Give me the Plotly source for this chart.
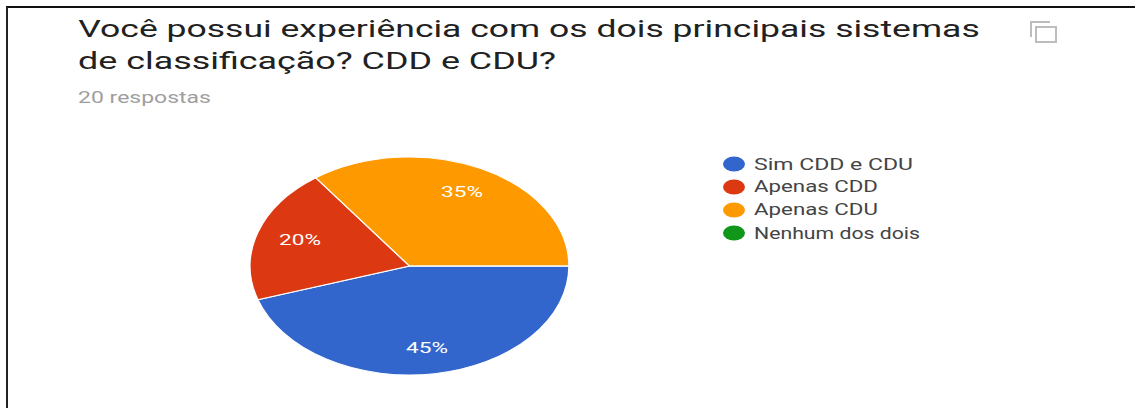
import math
import plotly.graph_objects as go

# data
categories = ["Sim CDD e CDU", "Apenas CDD", "Apenas CDU", "Nenhum dos dois"]
values = [45, 20, 35, 0]
colors = ["#3366CC", "#DC3912", "#FF9900", "#109618"]
title_lines = ["Você possui experiência com os dois principais sistemas",
               "de classificação? CDD e CDU?"]
subtitle = "20 respostas"

W, H = 1135, 408
FONT = "Roboto"


def px(x):
    return x / W


def py(y):
    return 1 - y / H


# the reference is a stretched screenshot, so each text gets a target width in px
# and is widened to it in post_script
target_widths = []


def text(x, y, s, size, color, width):
    target_widths.append(width)
    return dict(x=px(x), y=py(y), xref="paper", yref="paper", text=s, showarrow=False,
                xanchor="left", yanchor="middle", xshift=-2,
                font=dict(family=FONT, size=size, color=color))


# pie is a circle 319 wide, squeezed to 218 high after drawing (see post_script)
PIE_D = 319
PIE_H = 218
PIE_CX, PIE_CY = 409.5, 266
fig = go.Figure(go.Pie(labels=categories,
                       values=values,
                       sort=False,
                       direction="clockwise",
                       rotation=90,
                       marker=dict(colors=colors, line=dict(color="white", width=1.5)),
                       textinfo="none",
                       domain=dict(x=[px(PIE_CX - PIE_D / 2), px(PIE_CX + PIE_D / 2)],
                                   y=[py(PIE_D), 1]),
                       hoverinfo="label+percent"))

annotations = [text(78, 29, title_lines[0], 24, "#212121", 902),
               text(78, 61, title_lines[1], 24, "#212121", 478),
               text(78, 97, subtitle, 16, "#9e9e9e", 133)]
shapes = [
    dict(type="line", xref="paper", yref="paper", x0=px(6), x1=1, y0=py(7), y1=py(7),
         line=dict(color="#111111", width=2)),
    dict(type="line", xref="paper", yref="paper", x0=px(7), x1=px(7), y0=py(7), y1=0,
         line=dict(color="#222222", width=2)),
    # copy icon
    dict(type="rect", xref="paper", yref="paper", x0=px(1036), x1=px(1056), y0=py(27), y1=py(42),
         line=dict(color="#bdbdbd", width=2)),
    dict(type="path", xref="paper", yref="paper",
         path=f"M {px(1031)} {py(37)} L {px(1031)} {py(22)} L {px(1050)} {py(22)}",
         line=dict(color="#bdbdbd", width=2)),
]

# legend
legend_widths = [159, 124, 124, 166]
for i, (name, col) in enumerate(zip(categories, colors)):
    y = 164 + i * 23
    shapes.append(dict(type="circle", xref="paper", yref="paper",
                       x0=px(723), x1=px(745), y0=py(y - 7.5), y1=py(y + 7.5),
                       fillcolor=col, line=dict(width=0)))
    annotations.append(text(754, y, name, 16, "#444444", legend_widths[i]))

# percent labels sit further out than plotly's inside text, so place them from the values
total = sum(values)
start = 90
for v in values:
    if v > 0:
        mid = math.radians(start + v / total * 180)
        lx = PIE_CX + 0.72 * PIE_D / 2 * math.sin(mid)
        ly = PIE_CY - 0.76 * PIE_H / 2 * math.cos(mid)
        annotations.append(text(lx - 21, ly, f"{v / total:.0%}", 15, "white", 42))
    start += v / total * 360

fig.update_layout(width=W, height=H,
                  margin=dict(l=0, r=0, t=0, b=0),
                  paper_bgcolor="white",
                  showlegend=False,
                  annotations=annotations,
                  shapes=shapes)

post = f"""
document.body.style.margin = '0';
document.querySelector('.pielayer').setAttribute('transform',
  'translate(0,{PIE_CY}) scale(1,{PIE_H / PIE_D}) translate(0,{-PIE_D / 2})');
var widths = {target_widths};
document.querySelectorAll('.annotation-text').forEach(function (el, i) {{
  var b = el.getBBox();
  el.setAttribute('transform', 'translate(' + b.x + ',0) scale(' + widths[i] / b.width + ',1) translate(' + (-b.x) + ',0)');
}});
"""
fig.write_html("out.html", post_script=post, config=dict(displayModeBar=False))
